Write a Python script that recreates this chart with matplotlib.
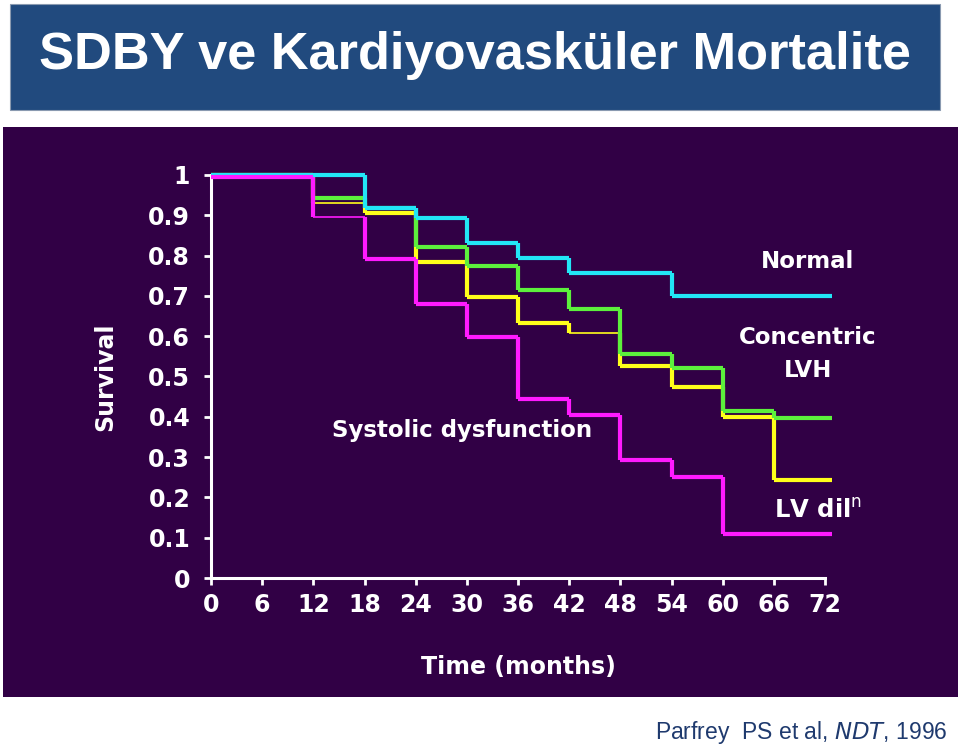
import matplotlib
matplotlib.use("Agg")
import matplotlib.pyplot as plt
from matplotlib.patches import Rectangle
from matplotlib import font_manager

# ---------------- data ----------------
title = "SDBY ve Kardiyovasküler Mortalite"
x_ticks = [0, 6, 12, 18, 24, 30, 36, 42, 48, 54, 60, 66, 72]
y_ticks = [0, 0.1, 0.2, 0.3, 0.4, 0.5, 0.6, 0.7, 0.8, 0.9, 1]
y_tick_labels = ["0", "0.1", "0.2", "0.3", "0.4", "0.5", "0.6", "0.7", "0.8", "0.9", "1"]
x_label = "Time (months)"
y_label = "Survival"

# step times (months) where each curve changes, last entry = end of curve
normal_t = [0, 18, 24, 30, 36, 42, 54, 72.8]
normal_s = [1.0, 0.918, 0.893, 0.831, 0.794, 0.756, 0.700]

lvh_t = [0, 12, 18, 24, 30, 36, 42, 48, 54, 60, 66, 72.8]
lvh_s = [1.0, 0.943, 0.918, 0.821, 0.774, 0.714, 0.667, 0.555, 0.520, 0.415, 0.396]

dil_t = [0, 12, 18, 24, 30, 36, 42, 48, 54, 60, 66, 72.8]
dil_s = [1.0, 0.930, 0.905, 0.784, 0.697, 0.632, 0.607, 0.527, 0.473, 0.400, 0.244]

sys_t = [0, 12, 18, 24, 30, 36, 42, 48, 54, 60, 72.8]
sys_s = [0.995, 0.896, 0.791, 0.679, 0.597, 0.445, 0.405, 0.294, 0.251, 0.109]

# ---------------- style ----------------
avail = {f.name for f in font_manager.fontManager.ttflist}
title_font = "Liberation Sans"
title_size = 37.7
for cand, size in [("Liberation Sans Narrow", 45), ("DejaVu Sans Condensed", 40)]:
    if cand in avail:
        title_font, title_size = cand, size
        break

W, H = 960, 747
fig = plt.figure(figsize=(W / 100, H / 100), dpi=100, facecolor="white")

# title banner
fig.patches.append(Rectangle((10 / W, 1 - 110 / H), 930 / W, 106 / H,
                             transform=fig.transFigure, facecolor="#214A7E",
                             edgecolor="#8A9AB0", linewidth=0.8, zorder=0))
fig.text(475 / W, 1 - 56 / H, title, ha="center", va="center",
         fontsize=title_size, fontweight="bold", color="white", family=title_font)

# dark panel
fig.patches.append(Rectangle((3 / W, 1 - 697 / H), 955 / W, 570 / H,
                             transform=fig.transFigure, facecolor="#310045",
                             edgecolor="none", zorder=0))

ax = fig.add_axes([211 / W, (H - 578) / H, (825 - 211) / W, (578 - 175) / H])
ax.set_zorder(5)
ax.set_facecolor("none")
ax.set_xlim(0, 72)
ax.set_ylim(0, 1)

thick, thin = 3.0, 1.2

def draw(t, s, color, thin_idx, z):
    widths = [thin if i in thin_idx else thick for i in range(len(s))]
    ax.hlines(s, t[:-1], t[1:], colors=color, linewidths=widths,
              zorder=z, clip_on=False)
    ax.vlines(t[1:len(s)], s[1:], s[:-1], colors=color, linewidths=thick,
              zorder=z, clip_on=False)

draw(dil_t, dil_s, "#FFFF1A", {1, 6}, 3)
draw(lvh_t, lvh_s, "#5CF03C", set(), 4)
draw(normal_t, normal_s, "#22E6F6", set(), 5)
draw(sys_t, sys_s, "#FF1AFF", {1}, 6)

for side in ["top", "right"]:
    ax.spines[side].set_visible(False)
for side in ["left", "bottom"]:
    ax.spines[side].set_color("white")
    ax.spines[side].set_linewidth(2.2)

tick_font = dict(fontsize=17, fontweight="bold", color="white", family="DejaVu Sans")
ax.set_xticks(x_ticks)
ax.set_xticklabels([str(v) for v in x_ticks], **tick_font)
ax.set_yticks(y_ticks)
ax.set_yticklabels(y_tick_labels, **tick_font)
ax.tick_params(axis="both", colors="white", width=2, length=5, direction="out")
ax.tick_params(axis="x", pad=6)
ax.tick_params(axis="y", pad=10)

ax.set_xlabel(x_label, fontsize=17, fontweight="bold", color="white", labelpad=27)
ax.set_ylabel(y_label, fontsize=17, fontweight="bold", color="white", labelpad=22)

ann = dict(fontsize=16.5, fontweight="bold", color="white", ha="center", va="center")
ax.text(70.0, 0.786, "Normal", **ann)
ax.text(70.0, 0.555, "Concentric\nLVH", linespacing=1.55, **ann)
ax.text(29.4, 0.365, "Systolic dysfunction", **ann)
ax.text(71.2, 0.167, "LV dil$^{\\mathsf{n}}$", fontsize=17.5, fontweight="bold",
        color="white", ha="center", va="center")

# citation
fig.text(948 / W, 1 - 733 / H, "Parfrey  PS et al, $\\it{NDT}$, 1996", ha="right",
         va="center", fontsize=16.5, color="#1F3A6E", family="Liberation Sans")

fig.savefig("out.png", dpi=100, facecolor="white")
